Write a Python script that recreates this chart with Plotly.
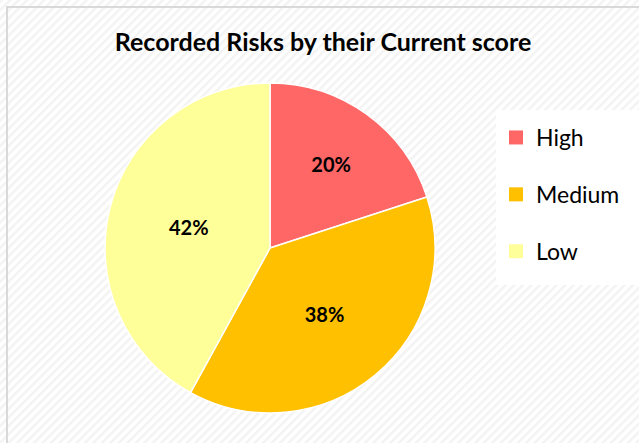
import base64
import plotly.graph_objects as go

categories = ["High", "Medium", "Low"]
values = [20, 38, 42]
colors = ["#FF6666", "#FFC000", "#FFFF99"]
title = "Recorded Risks by their Current score"

W, H = 639, 443
FONT = "Lato, Open Sans, sans-serif"

# faint diagonal stripe background pattern
svg = (
    f'<svg xmlns="http://www.w3.org/2000/svg" width="{W}" height="{H}">'
    '<defs><pattern id="p" width="6" height="6" patternUnits="userSpaceOnUse" '
    'patternTransform="rotate(45)"><rect width="6" height="6" fill="#ffffff"/>'
    '<rect width="2.5" height="6" fill="#f3f3f3"/></pattern></defs>'
    f'<rect width="{W}" height="{H}" fill="url(#p)"/></svg>'
)
src = "data:image/svg+xml;base64," + base64.b64encode(svg.encode()).decode()

fig = go.Figure()
fig.add_trace(go.Pie(
    labels=categories,
    values=values,
    marker=dict(colors=colors, line=dict(color="white", width=1.5)),
    sort=False,
    direction="clockwise",
    rotation=0,
    texttemplate="%{percent:.0%}",
    textposition="inside",
    insidetextorientation="horizontal",
    textfont=dict(family=FONT, size=20, color="black", weight="bold"),
    domain=dict(x=[105 / W, 435 / W], y=[1 - 413 / H, 1 - 83 / H]),
    hoverinfo="label+percent",
    showlegend=False,
))

# legend entries (one group per category so the gap can be set)
for cat, col in zip(categories, colors):
    fig.add_trace(go.Scatter(
        x=[None], y=[None], mode="markers", name=cat,
        marker=dict(symbol="square", size=14, color=col),
        legendgroup=cat, showlegend=True, hoverinfo="skip",
    ))

fig.update_layout(
    width=W, height=H,
    margin=dict(l=0, r=0, t=0, b=0),
    paper_bgcolor="white",
    plot_bgcolor="rgba(0,0,0,0)",
    xaxis=dict(visible=False),
    yaxis=dict(visible=False),
    title=dict(text=title, x=323 / W, xanchor="center", y=1 - 42 / H, yanchor="middle",
               font=dict(family=FONT, size=25, color="black", weight="bold")),
    images=[dict(source=src, xref="paper", yref="paper", x=0, y=1, sizex=1, sizey=1,
                 xanchor="left", yanchor="top", sizing="stretch", layer="below")],
    shapes=[
        dict(type="rect", xref="paper", yref="paper", x0=7 / W, x1=1.05, y0=-0.05, y1=1 - 7 / H,
             line=dict(color="#d9d9d9", width=2), layer="above"),
        dict(type="rect", xref="paper", yref="paper", x0=496 / W, x1=1.0, y0=1 - 285 / H, y1=1 - 110 / H,
             fillcolor="white", line=dict(width=0), layer="below"),
    ],
    legend=dict(
        x=496 / W, xanchor="left", y=1 - 116 / H, yanchor="top",
        font=dict(family=FONT, size=23, color="black"),
        bgcolor="rgba(0,0,0,0)",
        itemsizing="trace",
        itemwidth=30,
        tracegroupgap=24,
        traceorder="grouped",
    ),
)

fig.write_html("out.html")
